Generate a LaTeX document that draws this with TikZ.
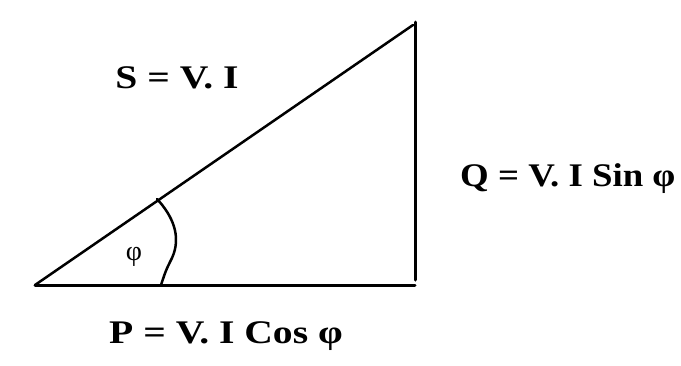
\documentclass[tikz,border=0pt]{standalone}
\usepackage{fontspec}
\setmainfont{Liberation Serif}
\begin{document}
\begin{tikzpicture}[x=1pt,y=-1pt,
  side/.style={line width=3pt,line cap=round,line join=round},
  lbl/.style={font=\fontsize{33}{33}\selectfont\bfseries,inner sep=0pt,anchor=base,xscale=1.2},
  anglbl/.style={font=\fontsize{28}{28}\selectfont,inner sep=0pt}]
\useasboundingbox (0,0) rectangle (681,365);
\coordinate (A) at (35,285);
\coordinate (B) at (415,285);
\coordinate (C) at (415,22);
\coordinate (H) at (413,25);
\draw[side] (A) -- (B);
\draw[side] (C) -- ([yshift=5]B);
\draw[line width=2.5pt,line cap=round] (A) -- (H);
\coordinate (a1) at (157,199);
\coordinate (a2) at (161,285);
\draw[line width=2.5pt,line cap=round] (a1) .. controls (172,215) and (182,236) .. (172,258) .. controls (166,270) .. (a2);
\node[lbl] (S) at (177,88) {S = V. I};
\node[lbl,anchor=base west,xscale=0.93] (Q) at (460,186) {Q = V. I Sin φ};
\node[lbl] (P) at (226,343) {P = V. I Cos φ};
\node[anglbl] (phi) at (134,257) {φ};
\end{tikzpicture}
\end{document}
